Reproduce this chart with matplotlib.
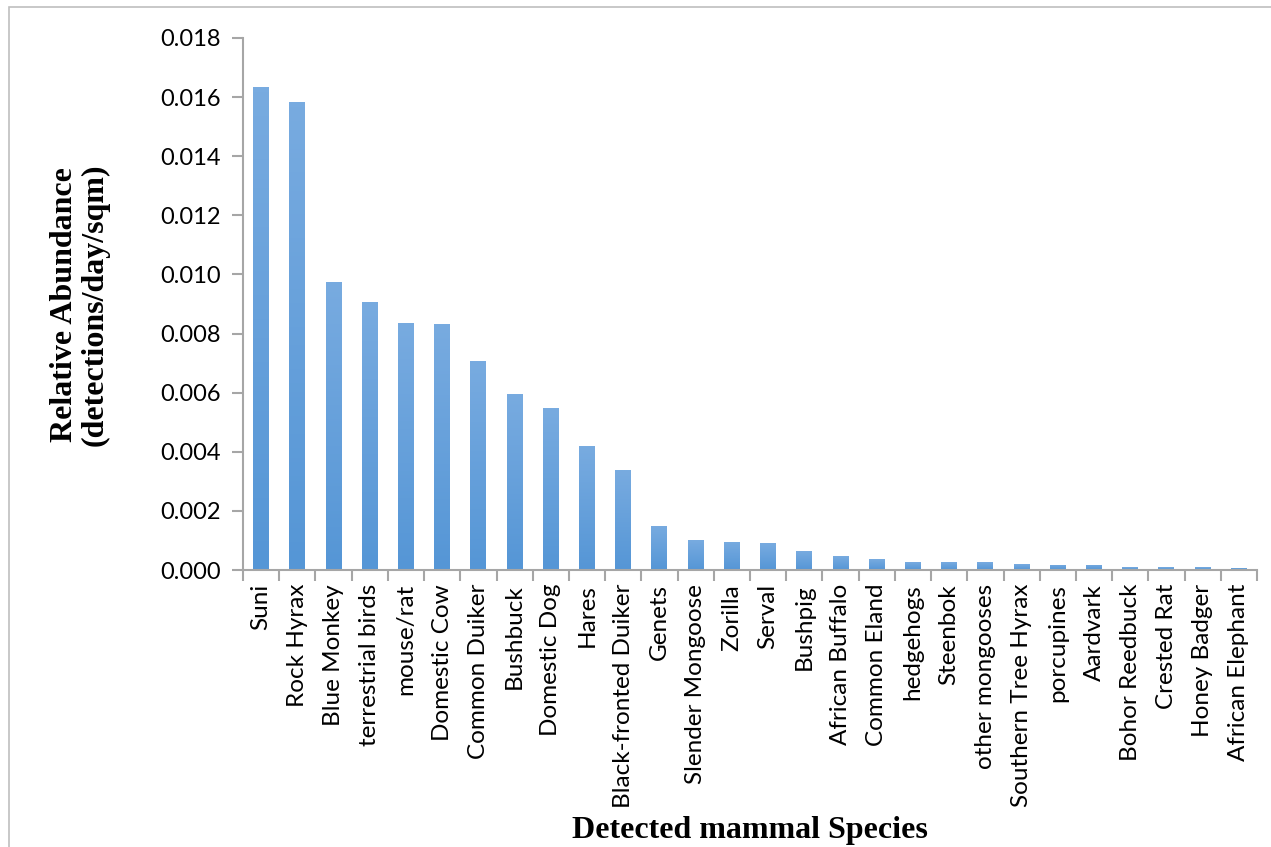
import numpy as np
import matplotlib
matplotlib.use("Agg")
import matplotlib.pyplot as plt
import matplotlib.patches as patches

# Datos
especies = [
    "Suni", "Rock Hyrax", "Blue Monkey", "terrestrial birds", "mouse/rat",
    "Domestic Cow", "Common Duiker", "Bushbuck", "Domestic Dog", "Hares",
    "Black-fronted Duiker", "Genets", "Slender Mongoose", "Zorilla", "Serval",
    "Bushpig", "African Buffalo", "Common Eland", "hedgehogs", "Steenbok",
    "other mongooses", "Southern Tree Hyrax", "porcupines", "Aardvark",
    "Bohor Reedbuck", "Crested Rat", "Honey Badger", "African Elephant",
]
abundancia = [
    0.01634, 0.01583, 0.00975, 0.00907, 0.00836,
    0.00832, 0.00707, 0.00595, 0.00548, 0.00419,
    0.00338, 0.00149, 0.00101, 0.00095, 0.00091,
    0.00064, 0.00047, 0.00037, 0.00027, 0.00027,
    0.00027, 0.00020, 0.00017, 0.00017,
    0.00010, 0.00010, 0.00010, 0.00007,
]
yticks = np.arange(0, 0.0181, 0.002)

plt.rcParams['font.family'] = ['Lato', 'DejaVu Sans']
fig = plt.figure(figsize=(12.71, 8.47), dpi=100)
ax = fig.add_axes([243 / 1271, 1 - 570 / 847, 1014 / 1271, 532 / 847])

x = np.arange(len(especies))
bars = ax.bar(x, abundancia, width=0.44, color='#6aa3db')

# Degradado estilo Excel dentro de cada barra
grad = np.linspace(0, 1, 100).reshape(-1, 1)
cmap = matplotlib.colors.LinearSegmentedColormap.from_list('g', ['#5596d6', '#78abe0'])
for b in bars:
    x0, w, h = b.get_x(), b.get_width(), b.get_height()
    im = ax.imshow(grad, cmap=cmap, extent=[x0, x0 + w, 0, h], origin='lower',
                   aspect='auto', zorder=2)
    im.set_clip_path(b)

ax.set_xlim(-0.5, len(especies) - 0.5)
ax.set_ylim(0, 0.018)
ax.set_yticks(yticks)
ax.set_yticklabels([f"{v:.3f}" for v in yticks], fontsize=17)
ax.set_xticks(x)
ax.set_xticklabels(especies, rotation=90, fontsize=17.5)
ax.set_xticks(np.arange(-0.5, len(especies), 1), minor=True)
ax.tick_params(axis='x', which='major', length=0, pad=10)
ax.tick_params(axis='x', which='minor', length=8, color='#a6a6a6', width=1.5)
ax.tick_params(axis='y', length=8, color='#a6a6a6', width=1.5, pad=8)

for s in ['top', 'right']:
    ax.spines[s].set_visible(False)
for s in ['left', 'bottom']:
    ax.spines[s].set_color('#a6a6a6')
    ax.spines[s].set_linewidth(1.5)

# Titulos de ejes
fig.text(80 / 1271, 1 - 305 / 847, "Relative Abundance\n(detections/day/sqm)",
         family='Liberation Serif', fontweight='bold', fontsize=23, rotation=90,
         ha='center', va='center', linespacing=1.05, multialignment='center')
fig.text(750 / 1271, 1 - 830 / 847, "Detected mammal Species", family='Liberation Serif',
         fontweight='bold', fontsize=23, ha='center', va='center')

# Marco exterior del grafico
fig.add_artist(patches.Rectangle((9 / 1271, -0.1), 1.2, 1 - 7 / 847 + 0.1,
                                 transform=fig.transFigure, fill=False,
                                 edgecolor='#bfbfbf', linewidth=1.2))

fig.savefig("out.png", dpi=100)
